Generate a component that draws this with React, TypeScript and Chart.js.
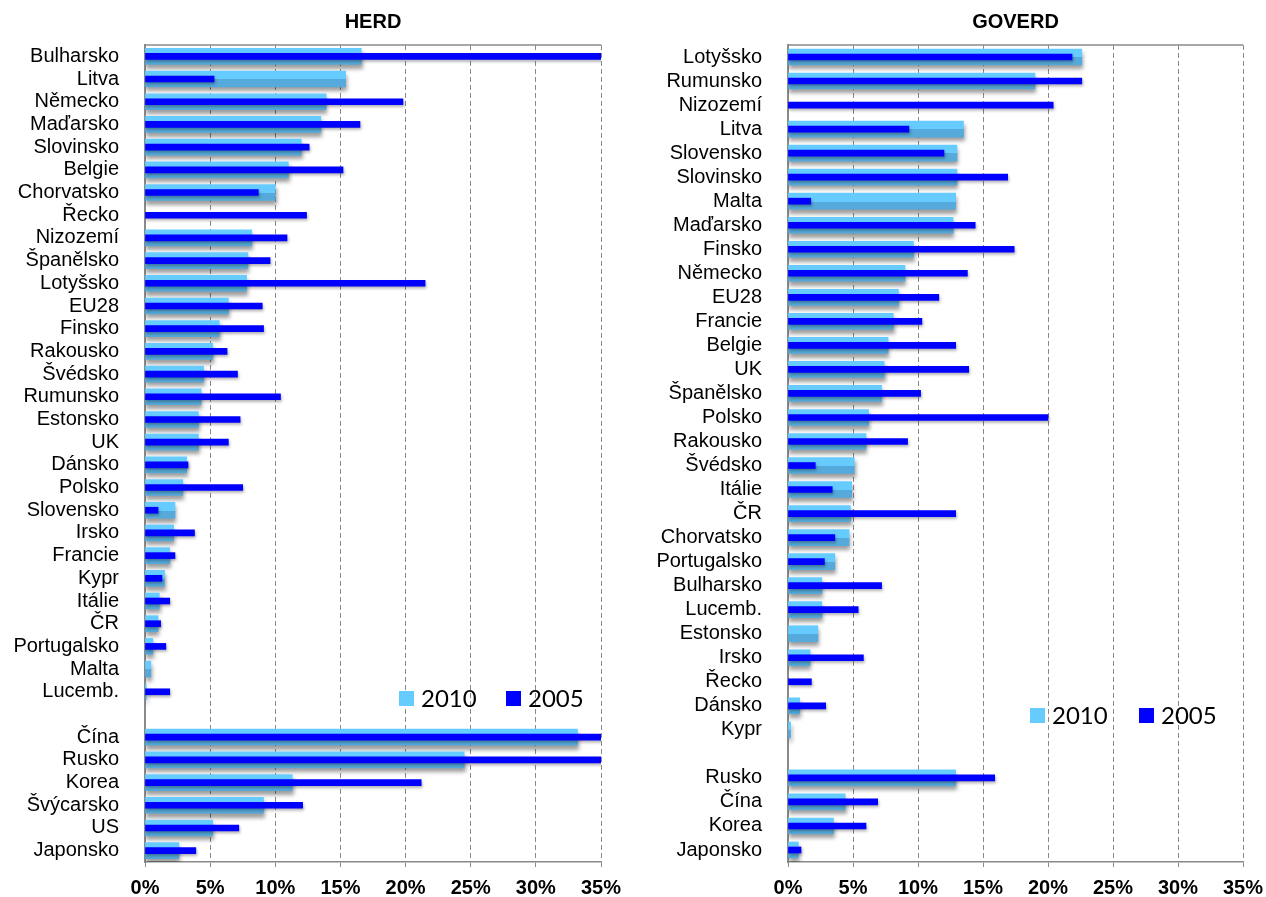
import React, { useEffect, useRef } from 'react';
import { Chart, registerables } from 'chart.js';

Chart.register(...registerables);

// ---------- DATA ----------
const herdCategories = [
  'Bulharsko', 'Litva', 'Německo', 'Maďarsko', 'Slovinsko', 'Belgie', 'Chorvatsko', 'Řecko',
  'Nizozemí', 'Španělsko', 'Lotyšsko', 'EU28', 'Finsko', 'Rakousko', 'Švédsko', 'Rumunsko',
  'Estonsko', 'UK', 'Dánsko', 'Polsko', 'Slovensko', 'Irsko', 'Francie', 'Kypr', 'Itálie',
  'ČR', 'Portugalsko', 'Malta', 'Lucemb.', '', 'Čína', 'Rusko', 'Korea', 'Švýcarsko', 'US',
  'Japonsko',
];
const herd2010 = [
  16.6, 15.4, 13.9, 13.5, 12.0, 11.0, 10.0, null, 8.2, 7.9, 7.8, 6.4, 5.7, 5.2, 4.5, 4.3,
  4.1, 4.1, 3.2, 2.9, 2.3, 2.2, 1.9, 1.5, 1.1, 1.0, 0.6, 0.45, 0.1, null, 33.2, 24.5, 11.3,
  9.1, 5.2, 2.6,
];
const herd2005 = [
  35.5, 5.3, 19.8, 16.5, 12.6, 15.2, 8.7, 12.4, 10.9, 9.6, 21.5, 9.0, 9.1, 6.3, 7.1, 10.4,
  7.3, 6.4, 3.3, 7.5, 1.0, 3.8, 2.3, 1.3, 1.9, 1.2, 1.6, null, 1.9, null, 35.5, 35.5, 21.2,
  12.1, 7.2, 3.9,
];

const goverdCategories = [
  'Lotyšsko', 'Rumunsko', 'Nizozemí', 'Litva', 'Slovensko', 'Slovinsko', 'Malta', 'Maďarsko',
  'Finsko', 'Německo', 'EU28', 'Francie', 'Belgie', 'UK', 'Španělsko', 'Polsko', 'Rakousko',
  'Švédsko', 'Itálie', 'ČR', 'Chorvatsko', 'Portugalsko', 'Bulharsko', 'Lucemb.', 'Estonsko',
  'Irsko', 'Řecko', 'Dánsko', 'Kypr', '', 'Rusko', 'Čína', 'Korea', 'Japonsko',
];
const goverd2010 = [
  22.6, 19.0, null, 13.5, 13.0, 13.0, 12.9, 12.7, 9.65, 9.0, 8.5, 8.1, 7.7, 7.4, 7.2, 6.2,
  6.0, 5.1, 4.9, 4.8, 4.7, 3.6, 2.6, 2.6, 2.3, 1.7, null, 0.9, 0.2, null, 12.9, 4.4, 3.5, 0.8,
];
const goverd2005 = [
  21.85, 22.6, 20.4, 9.3, 12.0, 16.9, 1.75, 14.4, 17.4, 13.8, 11.6, 10.3, 12.9, 13.9, 10.2,
  20.0, 9.2, 2.1, 3.4, 12.9, 3.6, 2.8, 7.2, 5.4, null, 5.8, 1.8, 2.9, null, null, 15.9, 6.9,
  6.0, 1.0,
];

const seriesLabels = ['2010', '2005'];
const xTickMax = 35;
const xTickStep = 5;

// ---------- STYLE ----------
const LIGHT = '#66CCFF';
const LIGHT_DARK = '#55AADB';
const DARK = '#0000FF';
const GRID = '#8a8a8a';
const FONT = "'Liberation Sans', Arial, sans-serif";

const decorPlugin = {
  id: 'decor',
  beforeDatasetsDraw(chart: any) {
    const { ctx, chartArea } = chart;
    ctx.save();
    ctx.strokeStyle = GRID;
    ctx.lineWidth = 1.5;
    ctx.beginPath();
    ctx.moveTo(chartArea.left, chartArea.top);
    ctx.lineTo(chartArea.right, chartArea.top);
    ctx.stroke();
    ctx.restore();
  },
  beforeDatasetDraw(chart: any, args: any) {
    const ctx = chart.ctx;
    ctx.save();
    if (args.index === 0) {
      ctx.shadowColor = 'rgba(0,0,0,0.38)';
      ctx.shadowBlur = 4;
      ctx.shadowOffsetX = 1;
      ctx.shadowOffsetY = 4;
    } else {
      ctx.shadowColor = 'rgba(0,0,0,0.3)';
      ctx.shadowBlur = 3;
      ctx.shadowOffsetX = 1;
      ctx.shadowOffsetY = 2;
    }
  },
  afterDatasetDraw(chart: any) {
    chart.ctx.restore();
  },
  afterDraw(chart: any, _args: any, opts: any) {
    const { ctx, chartArea } = chart;
    ctx.save();
    const size = 15;
    chart.data.datasets.forEach((ds: any, i: number) => {
      const x = chartArea.left + opts.dx + i * opts.gap;
      const y = chartArea.top + opts.dy;
      ctx.fillStyle = i === 0 ? LIGHT : DARK;
      ctx.fillRect(x, y, size, size);
      ctx.fillStyle = '#000';
      ctx.font = "24px Lato, 'Open Sans', sans-serif";
      ctx.textBaseline = 'middle';
      ctx.textAlign = 'left';
      ctx.fillText(ds.label, x + size + 7, y + size / 2 + 1);
    });
    ctx.restore();
  },
};

type PanelProps = {
  title: string;
  labels: string[];
  a: (number | null)[];
  b: (number | null)[];
  yWidth: number;
  padRight: number;
  legendDx: number;
  legendDy: number;
  legendGap: number;
};

function Panel(p: PanelProps) {
  const ref = useRef<HTMLCanvasElement>(null);
  useEffect(() => {
    const chart = new Chart(ref.current as HTMLCanvasElement, {
      type: 'bar',
      data: {
        labels: p.labels,
        datasets: [
          {
            label: seriesLabels[0],
            data: p.a,
            grouped: false,
            order: 1,
            barThickness: 16,
            backgroundColor: (c: any) => {
              const chart = c.chart;
              const y = chart.scales && chart.scales.y;
              if (!chart.chartArea || !y || typeof c.dataIndex !== 'number') return LIGHT;
              const yc = y.getPixelForValue(c.dataIndex);
              const g = chart.ctx.createLinearGradient(0, yc - 8, 0, yc + 8);
              g.addColorStop(0, LIGHT);
              g.addColorStop(0.52, LIGHT);
              g.addColorStop(0.52, LIGHT_DARK);
              g.addColorStop(1, LIGHT_DARK);
              return g;
            },
          } as any,
          {
            label: seriesLabels[1],
            data: p.b,
            grouped: false,
            order: 0,
            barThickness: 6,
            backgroundColor: DARK,
          } as any,
        ],
      },
      options: {
        indexAxis: 'y',
        responsive: false,
        animation: false,
        layout: { padding: { left: 0, right: p.padRight, top: 0, bottom: 0 } },
        scales: {
          x: {
            type: 'linear',
            min: 0,
            max: xTickMax,
            ticks: {
              stepSize: xTickStep,
              callback: (v: any) => v + '%',
              color: '#000',
              font: { family: FONT, size: 20, weight: 'bold' },
              padding: 9,
            },
            grid: { color: GRID, lineWidth: 1, drawTicks: true, tickLength: 5, tickColor: GRID },
            border: { display: true, color: GRID, width: 1.5, dash: [5, 3] },
            afterFit: (s: any) => {
              s.height = 35;
              s.paddingLeft = 0;
              s.paddingRight = 0;
            },
          },
          y: {
            type: 'category',
            ticks: {
              autoSkip: false,
              color: '#000',
              font: { family: FONT, size: 20 },
              padding: 18,
            },
            grid: { display: false },
            border: { display: true, color: GRID, width: 2 },
            afterFit: (s: any) => {
              s.width = p.yWidth;
            },
          },
        },
        plugins: {
          legend: { display: false },
          tooltip: { enabled: false },
          title: {
            display: true,
            text: p.title,
            fullSize: false,
            color: '#000',
            font: { family: FONT, size: 20, weight: 'bold' },
            padding: { top: 10, bottom: 11 },
          },
          decor: { dx: p.legendDx, dy: p.legendDy, gap: p.legendGap },
        } as any,
      },
      plugins: [decorPlugin],
    } as any);
    return () => chart.destroy();
  }, []);
  return (
    <canvas
      ref={ref}
      width={633}
      height={897}
      style={{ display: 'block', width: 633, height: 897 }}
    />
  );
}

export default function App() {
  return (
    <div
      style={{
        position: 'absolute',
        left: 0,
        top: 0,
        width: 1266,
        height: 897,
        display: 'flex',
        background: '#fff',
      }}
    >
      <Panel
        title="HERD"
        labels={herdCategories}
        a={herd2010}
        b={herd2005}
        yWidth={145}
        padRight={32}
        legendDx={254}
        legendDy={646}
        legendGap={107}
      />
      <Panel
        title="GOVERD"
        labels={goverdCategories}
        a={goverd2010}
        b={goverd2005}
        yWidth={155}
        padRight={23}
        legendDx={242}
        legendDy={663}
        legendGap={109}
      />
    </div>
  );
}
